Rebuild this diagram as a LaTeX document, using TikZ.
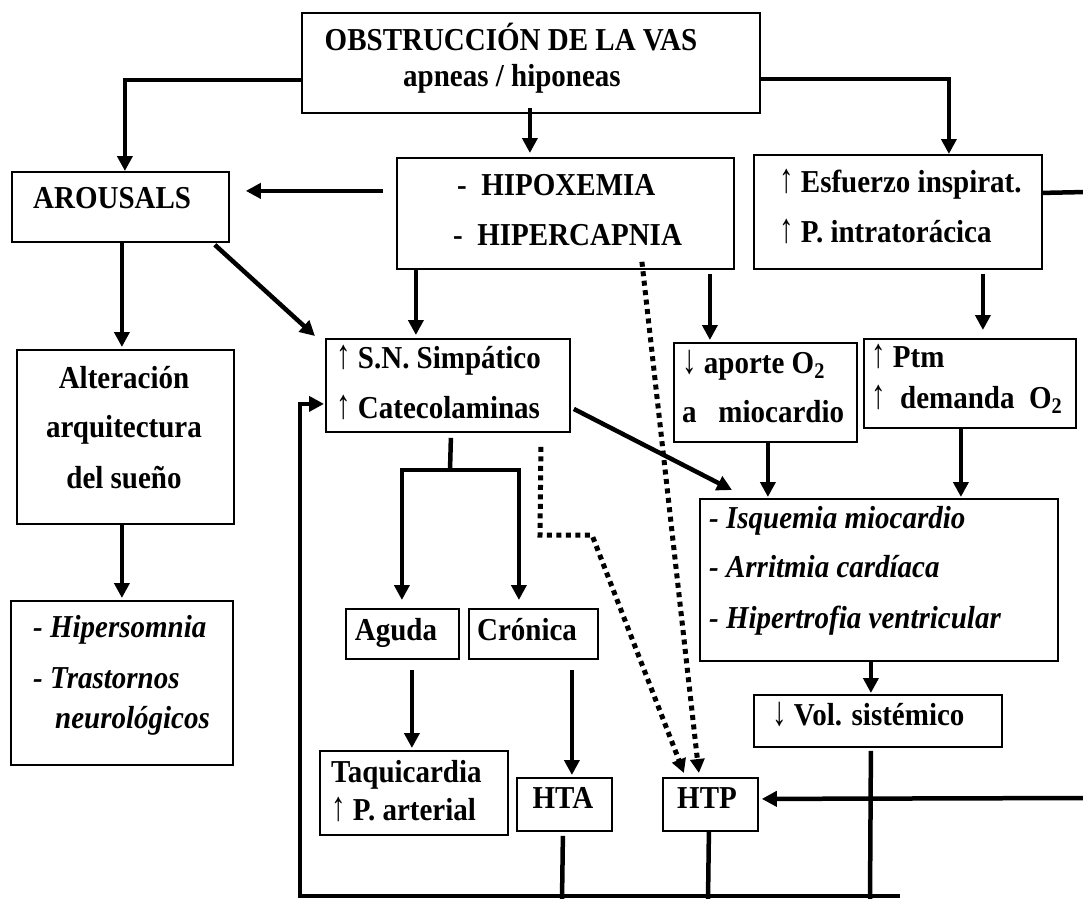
\documentclass[tikz,border=0pt]{standalone}
\usepackage{graphicx}
\usepackage{fontspec}
\setmainfont{Liberation Serif}
\usetikzlibrary{arrows.meta}
\newcommand\uparr{\scalebox{1}[1.3]{\mdseries ↑}}
\newcommand\dnarr{\scalebox{1}[1.3]{\mdseries ↓}}
\newcommand\vst[1]{\scalebox{1}[1.1]{#1}}
\begin{document}
\begin{tikzpicture}[x=1pt,y=-1pt,
  box/.style={draw, line width=1.8pt, inner sep=0pt, anchor=north west},
  txt/.style={inner sep=0pt, anchor=base west, font=\fontsize{29}{34}\selectfont\bfseries},
  ctxt/.style={txt, anchor=base},
  itxt/.style={txt, font=\fontsize{29}{34}\selectfont\bfseries\itshape},
  link/.style={line width=4.5pt},
  arr/.style={link, -{Triangle[length=15pt,width=15pt]}},
  dots/.style={line width=5pt, dash pattern=on 5pt off 4.5pt, -{Triangle[length=14pt,width=14pt]}}]
\useasboundingbox (0,0) rectangle (1083,898);

% boxes
\node[box, minimum width=458pt, minimum height=100pt] (top) at (301,12) {};
\node[box, minimum width=217pt, minimum height=70pt] (arous) at (11,171) {};
\node[box, minimum width=337pt, minimum height=111pt] (hipo) at (396,157) {};
\node[box, minimum width=288pt, minimum height=114pt] (esf) at (753,154) {};
\node[box, minimum width=212pt, minimum height=89pt] (ptm) at (863,338) {};
\node[box, minimum width=183pt, minimum height=99pt] (aporte) at (673,342) {};
\node[box, minimum width=244pt, minimum height=93pt] (sn) at (325,338) {};
\node[box, minimum width=217pt, minimum height=174pt] (alter) at (16,349) {};
\node[box, minimum width=222pt, minimum height=164pt] (hiper) at (10,600) {};
\node[box, minimum width=113pt, minimum height=50pt] (aguda) at (345,608) {};
\node[box, minimum width=129pt, minimum height=50pt] (cronica) at (468,608) {};
\node[box, minimum width=188pt, minimum height=84pt] (taqui) at (319,750) {};
\node[box, minimum width=95pt, minimum height=53pt] (hta) at (516,777) {};
\node[box, minimum width=95pt, minimum height=53pt] (htp) at (662,777) {};
\node[box, minimum width=248pt, minimum height=52pt] (vol) at (753,694) {};
\node[box, minimum width=358pt, minimum height=162pt] (isq) at (699,498) {};

% texts
\node[ctxt] (t1) at (511,50) {\vst{OBSTRUCCIÓN DE LA VAS}};
\node[ctxt] (t2) at (512,86) {\vst{apneas / hiponeas}};
\node[txt] (t3) at (33,208) {\vst{AROUSALS}};
\node[txt] (t4) at (457,195) {\vst{-\ \ HIPOXEMIA}};
\node[txt] (t5) at (453,245) {\vst{-\ \ HIPERCAPNIA}};
\node[txt] (t6) at (779,192) {\vst{\uparr\ Esfuerzo inspirat.}};
\node[txt] (t7) at (779,242) {\vst{\uparr\ P. intratorácica}};
\node[txt] (t8) at (871,367) {\vst{\uparr\ Ptm}};
\node[txt] (t9) at (871,408) {\vst{\uparr\ \ demanda\ \ O\textsubscript{2}}};
\node[txt] (t10) at (682,373) {\vst{\dnarr\ aporte O\textsubscript{2}}};
\node[txt] (t11) at (682,422) {\vst{a\ \ \ miocardio}};
\node[txt] (t12) at (336,368) {\vst{\uparr\ S.N. Simpático}};
\node[txt] (t13) at (336,418) {\vst{\uparr\ Catecolaminas}};
\node[ctxt] (t14) at (124,388) {\vst{Alteración}};
\node[ctxt] (t15) at (124,437) {\vst{arquitectura}};
\node[ctxt] (t16) at (124,488) {\vst{del sueño}};
\node[itxt] (t17) at (33,637) {\vst{- Hipersomnia}};
\node[itxt] (t18) at (33,688) {\vst{- Trastornos}};
\node[itxt] (t19) at (55,728) {\vst{neurológicos}};
\node[ctxt] (t20) at (396,640) {\vst{Aguda}};
\node[ctxt] (t21) at (527,640) {\vst{Crónica}};
\node[txt] (t22) at (331,782) {\vst{Taquicardia}};
\node[txt] (t23) at (331,820) {\vst{\uparr\ P. arterial}};
\node[ctxt] (t24) at (563,808) {\vst{HTA}};
\node[ctxt] (t25) at (707,808) {\vst{HTP}};
\node[txt] (t26) at (772,725) {\vst{\dnarr\ Vol. sistémico}};
\node[itxt] (t27) at (709,528) {\vst{- Isquemia miocardio}};
\node[itxt] (t28) at (709,577) {\vst{- Arritmia cardíaca}};
\node[itxt] (t29) at (709,628) {\vst{- Hipertrofia ventricular}};

% free ends
\coordinate (edgeA) at (1086,192);
\coordinate (edgeB) at (1086,798);
\coordinate (fork) at (450,470);
\coordinate (fbStart) at (900,896);
\coordinate (fbCorner) at (300,896);
\coordinate (htaEnd) at (562,900);
\coordinate (htpEnd) at (708,900);
\coordinate (volEnd) at (870,900);
\coordinate (d2a) at (540,535);
\coordinate (d2b) at (592,535);

% connectors
\draw[arr] ([yshift=-17pt]top.west) -| ([xshift=4.5pt]arous.north);
\draw[arr] ([yshift=-16pt]top.east) -| ([xshift=51pt]esf.north);
\draw[arr] ([xshift=-1pt,yshift=6pt]top.south) -- ([xshift=-35.5pt,yshift=4pt]hipo.north);
\draw[arr] ([xshift=-13pt,yshift=22.5pt]hipo.west) -- ([xshift=16pt,yshift=16pt]arous.east);
\draw[link] ([yshift=19pt]esf.east) -- (edgeA);
\draw[arr] (edgeB) -- ([xshift=3pt,yshift=5.5pt]htp.east);
\draw[arr] ([xshift=85pt,yshift=-4pt]esf.south) -- ([xshift=13pt,yshift=8pt]ptm.north);
\draw[arr] ([xshift=-149.5pt]hipo.south) -- ([xshift=-32pt,yshift=3pt]sn.north);
\draw[arr] ([xshift=144.5pt,yshift=-4pt]hipo.south) -- ([xshift=-55.5pt,yshift=2pt]aporte.north);
\draw[arr] ([xshift=-15pt,yshift=-2pt]arous.south east) -- ([xshift=-10pt,yshift=2pt]sn.north west);
\draw[arr] ([xshift=1.5pt]arous.south) -- ([xshift=-3.5pt,yshift=2pt]alter.north);
\draw[arr] ([xshift=-3.5pt]alter.south) -- ([yshift=2pt]hiper.north);
\draw[link] ([xshift=3pt,yshift=-5pt]sn.south) -- (fork);
\draw[arr] (fork) -| ([xshift=-0.5pt,yshift=8pt]aguda.north);
\draw[arr] (fork) -| ([xshift=-14.5pt,yshift=8pt]cronica.north);
\draw[arr] ([xshift=9.5pt,yshift=-10pt]aguda.south) -- ([xshift=-2pt,yshift=2pt]taqui.north);
\draw[arr] ([xshift=38.5pt,yshift=-10pt]cronica.south) -- ([xshift=7.5pt,yshift=2pt]hta.north);
\draw[arr] ([xshift=2.5pt]aporte.south) -- ([xshift=-111pt,yshift=1pt]isq.north);
\draw[arr] ([xshift=-9pt]ptm.south) -- ([xshift=82pt,yshift=1pt]isq.north);
\draw[arr] ([xshift=3pt,yshift=-23.5pt]sn.east) -- ([xshift=33pt,yshift=8pt]isq.north west);
\draw[arr] ([xshift=-8pt]isq.south) -- ([xshift=-7pt,yshift=1pt]vol.north);
\draw[link] ([xshift=-7pt,yshift=-3pt]vol.south) -- (volEnd);
\draw[link] ([xshift=-1.5pt,yshift=-4pt]hta.south) -- (htaEnd);
\draw[link] ([xshift=-1.5pt]htp.south) -- (htpEnd);
\draw[arr] (fbStart) -- (fbCorner) |- ([xshift=-1pt,yshift=-18.5pt]sn.west);
\draw[dots] ([xshift=76.5pt,yshift=8pt]hipo.south) -- ([xshift=-11.5pt,yshift=4pt]htp.north);
\draw[dots] ([xshift=93pt,yshift=-14pt]sn.south) -- (d2a) -- (d2b) -- ([xshift=-26.5pt,yshift=4pt]htp.north);
\end{tikzpicture}
\end{document}
